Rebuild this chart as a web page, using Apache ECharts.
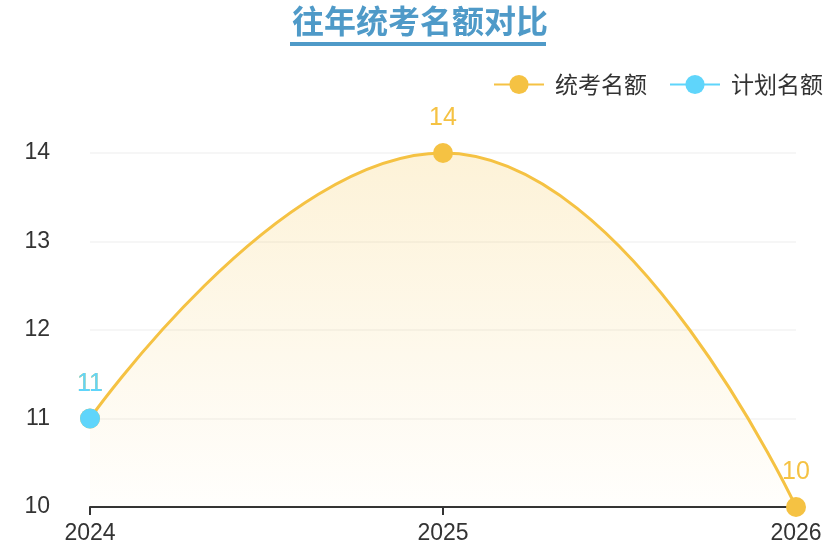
<!DOCTYPE html>
<html><head><meta charset="utf-8">
<style>html,body{margin:0;padding:0;background:#fff}#c{width:840px;height:549px}</style>
<script src="https://cdn.jsdelivr.net/npm/echarts@6/dist/echarts.min.js"></script>
</head><body><div id="c"></div>
<script>
var categories = ['2024', '2025', '2026'];
var examQuota = [11, 14, 10];
var planQuota = [11, null, null];
var chart = echarts.init(document.getElementById('c'));
chart.setOption({
  backgroundColor: '#fff',
  title: {
    text: '往年统考名额对比',
    left: 'center',
    top: 0,
    textStyle: { color: '#4f9ac8', fontSize: 32, fontWeight: 'bold', fontFamily: 'Noto Sans CJK SC' }
  },
  graphic: [{
    type: 'rect', left: 290, top: 42,
    shape: { width: 256, height: 4 },
    style: { fill: '#4f9ac8' }
  }],
  legend: {
    right: 12, top: 68, itemWidth: 50, itemHeight: 24, itemGap: 22,
    textStyle: { color: '#333', fontSize: 23, fontFamily: 'Noto Sans CJK SC', padding: [0, 0, 0, 6] },
    data: ['统考名额', '计划名额']
  },
  grid: { left: 90, right: 44, top: 153, bottom: 42 },
  xAxis: {
    type: 'category', data: categories, boundaryGap: false,
    axisLine: { lineStyle: { color: '#333', width: 2 } },
    axisTick: { show: true, length: 8, lineStyle: { color: '#333', width: 2 } },
    axisLabel: { color: '#333', fontSize: 23, margin: 15, fontFamily: 'Liberation Sans' }
  },
  yAxis: {
    type: 'value', min: 10, max: 14, interval: 1,
    axisLine: { show: false }, axisTick: { show: false },
    axisLabel: { color: '#333', fontSize: 23, margin: 40, fontFamily: 'Liberation Sans' },
    splitLine: { lineStyle: { color: '#f3f3f3', width: 1.5 } }
  },
  series: [{
    name: '统考名额', type: 'line', data: examQuota, smooth: true,
    symbol: 'circle', symbolSize: 20,
    itemStyle: { color: '#f5c243' },
    lineStyle: { color: '#f5c243', width: 3 },
    areaStyle: {
      color: new echarts.graphic.LinearGradient(0, 0, 0, 1, [
        { offset: 0, color: 'rgba(245,194,67,0.3)' },
        { offset: 1, color: 'rgba(245,194,67,0.02)' }
      ])
    },
    label: { show: true, position: 'top', distance: 12, color: '#f5c243', fontSize: 25, fontFamily: 'Liberation Sans' }
  }, {
    name: '计划名额', type: 'line', data: planQuota,
    symbol: 'circle', symbolSize: 20,
    itemStyle: { color: '#5fd5fb' },
    lineStyle: { color: '#5fd5fb', width: 2 },
    label: { show: true, position: 'top', distance: 12, color: '#5fd5fb', fontSize: 25, fontFamily: 'Liberation Sans' }
  }]
});
</script></body></html>
